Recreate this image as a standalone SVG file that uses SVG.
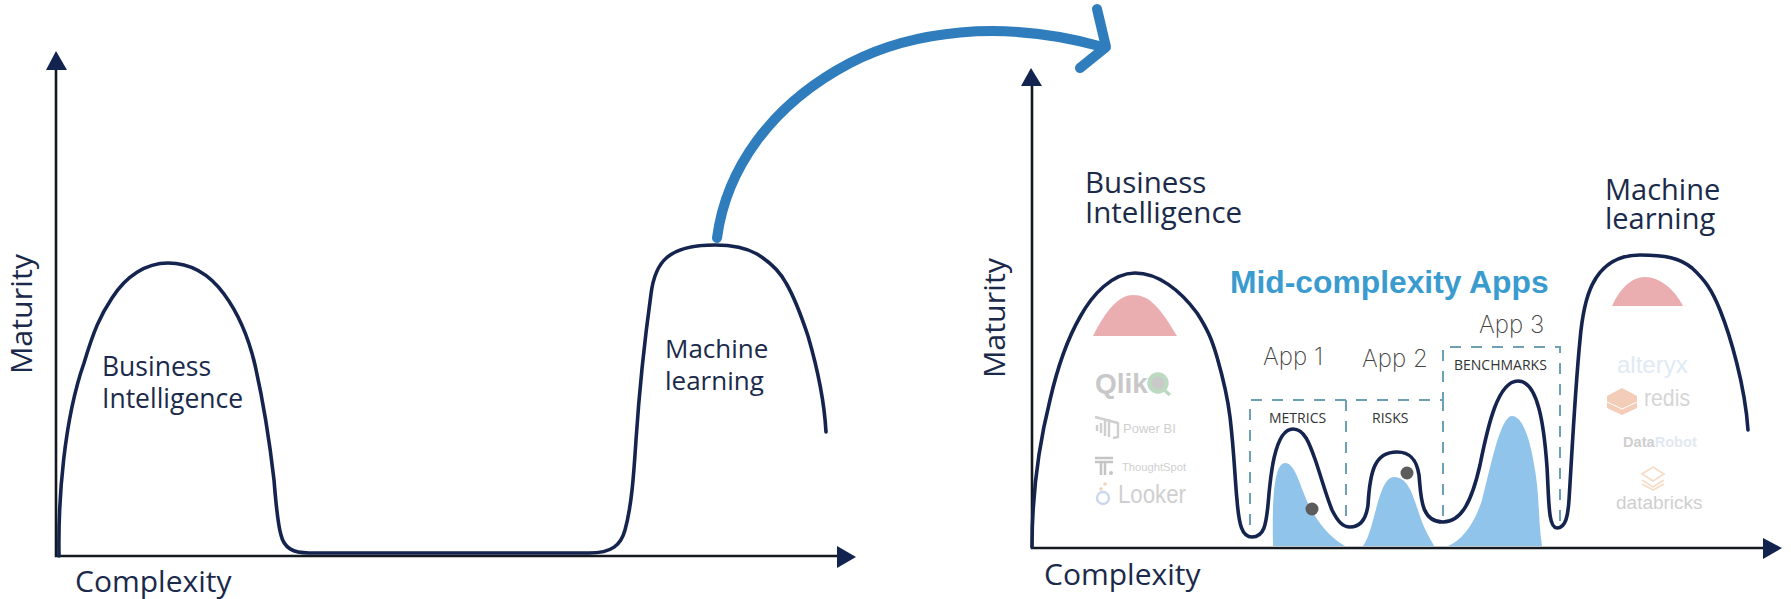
<svg xmlns="http://www.w3.org/2000/svg" width="1791" height="599" viewBox="0 0 1791 599">
<defs>
<style>
.t{font-family:"Open Sans","Liberation Sans",sans-serif;fill:#1b2a4a}
.curve{fill:none;stroke:#14244e;stroke-width:3.6;stroke-linecap:round}
.axis{stroke:#14181f;stroke-width:2.6;fill:none}
.head{fill:#12234f}
.dash{fill:none;stroke:#6d9fb5;stroke-width:2;stroke-dasharray:11 10}
.blue{fill:#90c4ea}
.pink{fill:#eaaeb0}
.dot{fill:#5c5c5c}
.hand{font-family:"Inter","Liberation Sans",sans-serif;font-weight:200;font-size:24px;fill:#444}
.tag{font-family:"Open Sans","Liberation Sans",sans-serif;font-size:14px;fill:#333}
.logo{font-family:"Liberation Sans",sans-serif;fill:#cfcfcf}
</style>
</defs>
<rect width="1791" height="599" fill="#fff"/>
<g id="left-chart">
<path class="axis" d="M56 68V556H840"/>
<polygon class="head" points="56,51 67,70 46,70"/>
<polygon class="head" points="856,557 837,546 837,568"/>
<path class="curve" d="M59 556C58 500 64 420 84 363C94 330 100 316 112 298C126 276 146 263 168 263C192 263 210 275 224 294C238 313 248 335 255 365C264 405 270 445 274 480C276 505 278 525 281 535C284 548 293 553 309 553L589 553C612 553 621 545 625 530C632 505 634 470 636 440C640 380 646 330 651 294C655 262 668 245 715 245C738 245 750 250 757 254C770 262 780 272 786 283C796 300 802 318 808 336C815 360 824 395 826 432"/>
</g>
<g id="left-labels">
<text class="t" x="102" y="376" font-size="26.5">Business</text>
<text class="t" x="102" y="408" font-size="26.5">Intelligence</text>
<text class="t" x="665" y="358" font-size="26">Machine</text>
<text class="t" x="665" y="390" font-size="26">learning</text>
<text class="t" x="75" y="592" font-size="30">Complexity</text>
<text class="t" transform="translate(32 374) rotate(-90)" font-size="30" textLength="120" lengthAdjust="spacingAndGlyphs">Maturity</text>
</g>
<g id="connectors">
<path d="M717 238C726 170 770 105 850 63C910 32 1000 18 1103 47" fill="none" stroke="#2f7dbd" stroke-width="10" stroke-linecap="round"/>
<path d="M1097 9L1106 47L1080 68" fill="none" stroke="#2f7dbd" stroke-width="10" stroke-linecap="round" stroke-linejoin="round"/>
</g>
<g id="right-chart">
<path class="pink" d="M1093 336C1105 312 1118 295 1133 295C1150 295 1160 308 1177 336Z"/>
<path class="pink" d="M1612 306C1620 288 1632 277 1645 277C1660 277 1675 290 1683 306Z"/>
<path class="blue" d="M1273 546C1272 500 1274 463 1285 463C1296 463 1300 488 1310 507C1322 530 1335 540 1345 546Z"/>
<path class="blue" d="M1363 546C1375 530 1378 477 1394 477C1410 477 1414 500 1422 522C1427 535 1432 541 1434 546Z"/>
<path class="blue" d="M1448 546C1462 540 1474 525 1482 500C1490 470 1500 416 1512 416C1525 416 1532 450 1535 470C1540 500 1538 520 1542 546Z"/>
<circle class="dot" cx="1312" cy="509" r="6.5"/>
<circle class="dot" cx="1407" cy="473" r="6.5"/>
<path class="dash" d="M1250 525V400H1443V347H1560V525"/>
<path class="dash" d="M1346 400V525"/>
<path class="dash" d="M1443 400V525"/>
<path class="axis" d="M1032 86V548H1768"/>
<polygon class="head" points="1031,68 1042,86 1021,86"/>
<polygon class="head" points="1782,548 1763,538 1763,559"/>
<path class="curve" d="M1032 547C1032 490 1040 440 1050 400C1058 365 1068 338 1080 317C1092 295 1112 273 1135 273C1158 273 1180 290 1197 313C1208 330 1212 340 1217 357C1225 385 1228 400 1230 417C1234 450 1235 480 1237 500C1239 525 1242 537 1252 537C1264 537 1266 525 1268 505C1270 480 1274 429 1293 429C1305 429 1310 445 1316 462C1322 480 1326 495 1332 510C1338 522 1343 527 1350 527C1360 527 1366 520 1368 505C1370 470 1375 452 1397 452C1412 452 1417 462 1419 475C1421 495 1420 522 1443 522C1462 522 1472 500 1480 465C1488 425 1498 381 1518 381C1538 381 1544 425 1547 467C1549 500 1548 528 1557 528C1566 528 1568 515 1569 500C1571 470 1575 390 1580 340C1583 305 1590 255 1640 255C1665 255 1680 258 1692 268C1705 280 1712 290 1720 310C1730 335 1745 385 1748 430"/>
</g>
<g id="right-labels">
<text class="t" x="1085" y="193" font-size="29.5">Business</text>
<text class="t" x="1085" y="223" font-size="29.5">Intelligence</text>
<text class="t" x="1605" y="200" font-size="29">Machine</text>
<text class="t" x="1605" y="229" font-size="29">learning</text>
<text class="t" x="1044" y="585" font-size="30">Complexity</text>
<text class="t" transform="translate(1005 378) rotate(-90)" font-size="30" textLength="120" lengthAdjust="spacingAndGlyphs">Maturity</text>
<text x="1230" y="293" font-family="Liberation Sans, sans-serif" font-weight="700" font-size="31.8" fill="#3a9bcf">Mid-complexity Apps</text>
</g>
<g id="app-1"><text class="hand" x="1263" y="365">App 1</text><text class="tag" x="1269" y="423">METRICS</text></g>
<g id="app-2"><text class="hand" x="1362" y="367">App 2</text><text class="tag" x="1372" y="423">RISKS</text></g>
<g id="app-3"><text class="hand" x="1479" y="333">App 3</text><text class="tag" x="1454" y="370">BENCHMARKS</text></g>
<g id="bi-logos">
<text class="logo" x="1095" y="393" font-size="28" font-weight="700" style="fill:#c8c8c8">Qlik</text>
<circle cx="1158" cy="383" r="8.5" fill="#c9c9c9" stroke="#bcd9c2" stroke-width="4.5"/>
<path d="M1163 389L1170 395" stroke="#bcd9c2" stroke-width="3.5"/>
<path d="M1097 431V425M1101 433V423M1105 436V420M1109 437V419M1095 417L1118 423V437L1113 438" fill="none" stroke="#cfcfcf" stroke-width="2.4"/>
<text class="logo" x="1123" y="433" font-size="13">Power BI</text>
<path d="M1095 458H1113M1095 462H1113M1101 462V475M1105 462V475" fill="none" stroke="#c4c4c4" stroke-width="2.5"/>
<circle cx="1111" cy="473" r="2" fill="#c4c4c4"/>
<text class="logo" x="1122" y="471" font-size="11.5" textLength="64" lengthAdjust="spacingAndGlyphs">ThoughtSpot</text>
<circle cx="1103" cy="498" r="6" fill="none" stroke="#ccd6ec" stroke-width="2.4"/>
<circle cx="1101" cy="489" r="1.8" fill="#f2d5b8"/>
<circle cx="1105" cy="484" r="1.8" fill="#f2d5b8"/>
<text class="logo" x="1118" y="503" font-size="25" textLength="68" lengthAdjust="spacingAndGlyphs">Looker</text>
</g>
<g id="ml-logos">
<text class="logo" x="1617" y="373" font-size="24" style="fill:#dfeaf4">alteryx</text>
<path d="M1607 396L1622 388L1637 396V408L1622 415L1607 408Z" fill="#f3cdb8"/>
<path d="M1607 402L1622 409L1637 402" fill="none" stroke="#fff" stroke-width="1"/>
<text class="logo" x="1644" y="406" font-size="24" textLength="46" lengthAdjust="spacingAndGlyphs" style="fill:#d5d5d5">redis</text>
<text class="logo" x="1623" y="447" font-size="14.6" font-weight="700"><tspan style="fill:#cfcfcf">Data</tspan><tspan style="fill:#e2e8f2">Robot</tspan></text>
<path d="M1642 474L1653 467L1664 474L1653 481ZM1642 480L1653 487L1664 480M1642 484L1653 490L1664 484" fill="none" stroke="#f7dcc6" stroke-width="1.8"/>
<text class="logo" x="1616" y="509" font-size="19">databricks</text>
</g>
</svg>
